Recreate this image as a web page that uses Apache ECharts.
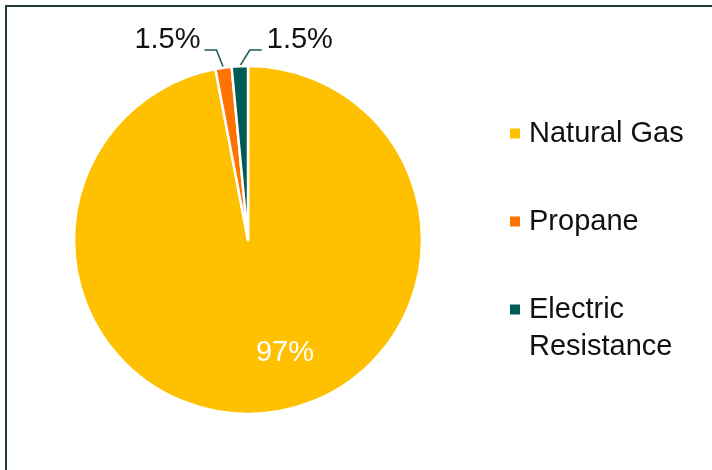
<!DOCTYPE html>
<html>
<head>
<meta charset="utf-8">
<style>
  html, body { margin: 0; padding: 0; background: #ffffff; }
  #chart { width: 712px; height: 470px; }
</style>
<script src="https://cdn.jsdelivr.net/npm/echarts@6/dist/echarts.min.js"></script>
</head>
<body>
<div id="chart"></div>
<script>
// Heating fuel shares
const categories = ['Natural Gas', 'Propane', 'Electric Resistance'];
const shares = [97, 1.5, 1.5];
const shareLabels = ['97%', '1.5%', '1.5%'];
// The two-line entry starts with an empty line so its first line sits beside the swatch
const legendNames = ['Natural Gas', 'Propane', '\nElectric\nResistance'];
const colors = ['#FFC000', '#FF7300', '#005A55'];

const FONT = '"Liberation Sans", Arial, sans-serif';
const CX = 248, CY = 240, R = 174;
const LINE_H = 37;

const chart = echarts.init(document.getElementById('chart'), null, { renderer: 'canvas' });

const pieData = categories.map((name, i) => ({
  name: name,
  value: shares[i],
  itemStyle: { color: colors[i] },
  label: i === 0
    ? { position: 'inside', color: '#ffffff' }
    : { position: 'outside', color: '#111111' }
}));

chart.setOption({
  animation: false,
  backgroundColor: '#ffffff',
  graphic: [{
    type: 'polyline',
    shape: { points: [[6, 470], [6, 6], [712, 6]] },
    style: { stroke: '#1e3d3d', lineWidth: 2, fill: null },
    silent: true
  }],
  legend: {
    orient: 'vertical',
    left: 508,
    top: 78,
    padding: 0,
    itemGap: 88 - 3 * LINE_H,
    itemWidth: 12,
    itemHeight: 12,
    icon: 'rect',
    selectedMode: false,
    data: categories.map((name, i) => ({
      name: name,
      textStyle: i === 2
        ? { padding: [0, 0, 0, 3] }
        : { padding: [LINE_H, 0, LINE_H, 3] }
    })),
    formatter: name => legendNames[categories.indexOf(name)],
    textStyle: {
      fontFamily: FONT,
      fontSize: 29,
      lineHeight: LINE_H,
      color: '#111111'
    }
  },
  series: [{
    type: 'pie',
    center: [CX, CY],
    radius: [0, R],
    startAngle: 90,
    clockwise: true,
    avoidLabelOverlap: false,
    itemStyle: { borderColor: '#ffffff', borderWidth: 2.5 },
    label: {
      show: true,
      fontFamily: FONT,
      fontSize: 29,
      formatter: p => shareLabels[p.dataIndex]
    },
    labelLine: {
      show: true,
      length: 12,
      length2: 12,
      lineStyle: { color: '#1f5c5c', width: 1.6 }
    },
    labelLayout: params => {
      const i = params.dataIndex;
      if (i === 0) {
        return { x: CX + 37, y: CY + 113, align: 'center', verticalAlign: 'middle' };
      }
      const p0 = params.labelLinePoints ? params.labelLinePoints[0] : [CX, CY - R];
      const elbowY = CY - R - 16;
      if (i === 1) {
        const p1 = [p0[0] - 7, elbowY];
        const p2 = [p1[0] - 12, elbowY];
        return {
          x: p2[0] - 4, y: elbowY - 10, align: 'right', verticalAlign: 'middle',
          labelLinePoints: [p0, p1, p2]
        };
      }
      const p1 = [p0[0] + 10, elbowY];
      const p2 = [p1[0] + 12, elbowY];
      return {
        x: p2[0] + 5, y: elbowY - 10, align: 'left', verticalAlign: 'middle',
        labelLinePoints: [p0, p1, p2]
      };
    },
    data: pieData
  }]
});
</script>
</body>
</html>
